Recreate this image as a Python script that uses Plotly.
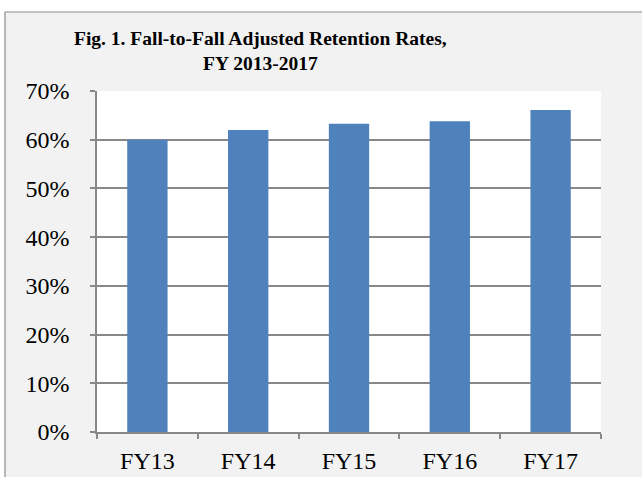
import plotly.graph_objects as go

categories = ["FY13", "FY14", "FY15", "FY16", "FY17"]
rates = [0.600, 0.620, 0.633, 0.638, 0.661]
title_lines = ["Fig. 1. Fall-to-Fall Adjusted Retention Rates,", "FY 2013-2017"]

W, H = 642, 477
L, R, T, B = 97, 41, 91, 45
pw, ph = W - L - R, H - T - B

def px_x(px):
    return (px - L) / pw

def px_y(py):
    return (H - B - py) / ph

FONT = "Liberation Serif, Times New Roman, serif"
GRID = "#888888"

fig = go.Figure(
    go.Bar(x=categories, y=rates, marker=dict(color="#4F81BD", line=dict(width=0)), width=0.4)
)

fig.update_layout(
    width=W, height=H,
    margin=dict(l=L, r=R, t=T, b=B, autoexpand=False),
    paper_bgcolor="white",
    plot_bgcolor="white",
    showlegend=False,
    font=dict(family=FONT, size=24, color="black"),
    shapes=[
        dict(type="rect", xref="paper", yref="paper", layer="below",
             x0=px_x(5), x1=px_x(660), y0=px_y(500), y1=px_y(12),
             fillcolor="#F2F2F2", line=dict(color="#8C8C8C", width=1.2)),
        dict(type="rect", xref="paper", yref="paper", layer="below",
             x0=0, x1=1, y0=0, y1=1, fillcolor="white", line=dict(width=0)),
    ],
    annotations=[
        dict(text="<br>".join(title_lines), xref="paper", yref="paper",
             x=px_x(260), y=px_y(26), xanchor="center", yanchor="top",
             showarrow=False, align="center",
             font=dict(family=FONT, size=19.5, color="black", weight="bold")),
    ],
)

fig.update_yaxes(
    range=[0, 0.70], dtick=0.1, tickformat=".0%",
    showgrid=True, gridcolor=GRID, gridwidth=1.5,
    showline=True, linecolor=GRID, linewidth=1.5,
    ticks="outside", ticklen=5, tickcolor=GRID, tickwidth=1.5,
    ticklabelstandoff=16, zeroline=False,
)
fig.update_xaxes(
    showline=True, linecolor=GRID, linewidth=1.5,
    ticks="outside", ticklen=5, tickcolor=GRID, tickwidth=1.5,
    tickson="boundaries", ticklabelstandoff=6, showgrid=False,
)

fig.write_html(
    "out.html",
    config={"displayModeBar": False},
    post_script="document.body.style.margin='0';document.body.style.overflow='hidden';",
)
